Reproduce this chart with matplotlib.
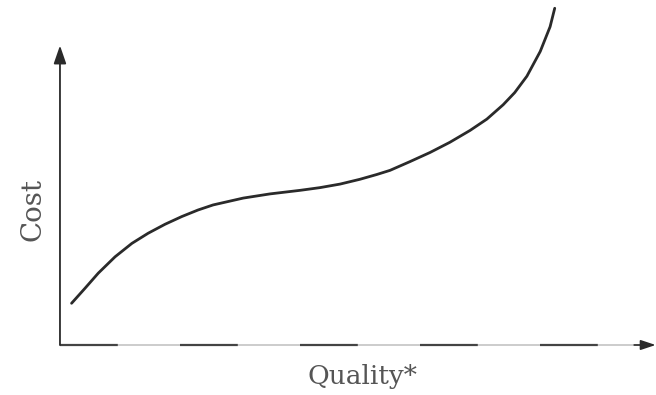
import numpy as np
import matplotlib.pyplot as plt

# Curve (quality vs cost, arbitrary units)
quality = [0.20, 0.43, 0.66, 0.95, 1.24, 1.52, 1.81, 2.10, 2.38, 2.64, 3.16,
           3.62, 4.14, 4.48, 4.83, 5.17, 5.46, 5.69, 6.03, 6.38, 6.72, 7.07,
           7.36, 7.64, 7.84, 8.05, 8.28, 8.45, 8.53]
cost = [1.40, 1.90, 2.41, 2.96, 3.41, 3.75, 4.05, 4.31, 4.53, 4.70, 4.93,
        5.07, 5.19, 5.28, 5.40, 5.56, 5.72, 5.86, 6.15, 6.46, 6.80, 7.20,
        7.58, 8.06, 8.47, 9.02, 9.85, 10.68, 11.30]

x_label = "Quality*"
y_label = "Cost"

fig = plt.figure(figsize=(6.56, 3.95), dpi=100)
ax = fig.add_axes([0, 0, 1, 1])
ax.set_xlim(-1.034, 10.276)
ax.set_ylim(-1.678, 11.577)
ax.axis('off')

ink = '#2a2a2a'

# y axis with arrow
ax.annotate('', xy=(0, 10.05), xytext=(0, 0),
            arrowprops=dict(arrowstyle='-|>,head_length=1.1,head_width=0.38',
                            color=ink, lw=1.3, shrinkA=0, shrinkB=0))

# x axis: faint line with darker dashes, arrow at the end
ax.plot([0, 10.0], [0, 0], color='#c4c4c4', lw=1.2)
ax.plot([0, 10.0], [0, 0], color='#444444', lw=1.6, dashes=(26, 28))
ax.annotate('', xy=(10.27, 0), xytext=(9.9, 0),
            arrowprops=dict(arrowstyle='-|>,head_length=0.9,head_width=0.3',
                            color=ink, lw=1.2, shrinkA=0, shrinkB=0))

# cost curve
ax.plot(quality, cost, color=ink, lw=2.0, solid_capstyle='round',
        solid_joinstyle='round')

ax.text(-0.47, 4.55, y_label, rotation=90, ha='center', va='center',
        family='DejaVu Serif', fontsize=20, color='#555555')
ax.text(5.22, -1.05, x_label, ha='center', va='center',
        family='DejaVu Serif', fontsize=19, color='#555555')

fig.savefig("out.png", dpi=100)
